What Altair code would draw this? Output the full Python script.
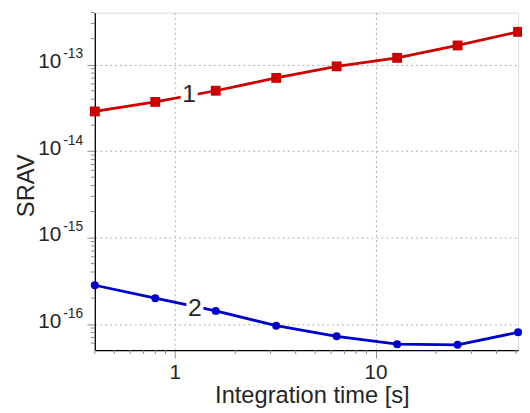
import altair as alt
import pandas as pd

# ---- data ----
time_s = [0.4, 0.8, 1.6, 3.2, 6.4, 12.8, 25.6, 51.2]
srav_1 = [2.88e-14, 3.71e-14, 5.0e-14, 7.03e-14, 9.57e-14, 1.20e-13, 1.67e-13, 2.40e-13]
srav_2 = [2.81e-16, 1.99e-16, 1.42e-16, 9.57e-17, 7.22e-17, 5.85e-17, 5.75e-17, 8.02e-17]
series_names = ["1", "2"]
label_x = [1.18, 1.26]
label_y = [4.62e-14, 1.53e-16]

x_major = [1, 10]
x_minor = [0.4, 0.5, 0.6, 0.7, 0.8, 0.9, 2, 3, 4, 5, 6, 7, 8, 9, 20, 30, 40, 50]
y_major = [1e-16, 1e-15, 1e-14, 1e-13]
y_exp = ["-16", "-15", "-14", "-13"]
y_minor = [6e-17, 7e-17, 8e-17, 9e-17,
           2e-16, 3e-16, 4e-16, 5e-16, 6e-16, 7e-16, 8e-16, 9e-16,
           2e-15, 3e-15, 4e-15, 5e-15, 6e-15, 7e-15, 8e-15, 9e-15,
           2e-14, 3e-14, 4e-14, 5e-14, 6e-14, 7e-14, 8e-14, 9e-14,
           2e-13, 3e-13, 4e-13]

W, H = 429, 342
FONT = "Liberation Sans"
TXT = "#262626"

df = pd.DataFrame({
    "x": time_s * 2,
    "y": srav_1 + srav_2,
    "s": [series_names[0]] * len(time_s) + [series_names[1]] * len(time_s),
})
lab = pd.DataFrame({"x": label_x, "y": label_y, "s": series_names})
xmin_df = pd.DataFrame({"x": x_minor})
ymin_df = pd.DataFrame({"y": y_minor})
ymaj_df = pd.DataFrame({"y": y_major, "base": ["10"] * len(y_major), "exp": y_exp})

xscale = alt.Scale(type="log", domain=[0.4, 51.2], nice=False)
yscale = alt.Scale(type="log", domain=[5e-17, 4e-13], nice=False)
cscale = alt.Scale(domain=series_names, range=["#cc0000", "#0000cc"])
sscale = alt.Scale(domain=series_names, range=["square", "circle"])

xaxis = alt.Axis(values=x_major, format="~g", title="Integration time [s]",
                 grid=True, gridColor="#b0b0b0", gridDash=[2, 3], gridWidth=1,
                 domainColor="black", domainWidth=1.3, tickColor="#888", tickSize=8,
                 labelFont=FONT, labelFontSize=21, labelColor=TXT, labelPadding=4,
                 titleFont=FONT, titleFontSize=24, titleFontWeight="normal", titleColor=TXT,
                 titleX=220, titleY=53, titleBaseline="alphabetic", titleAlign="center")
yaxis = alt.Axis(values=y_major, labels=False, title="SRAV",
                 grid=True, gridColor="#b0b0b0", gridDash=[2, 3], gridWidth=1,
                 domainColor="black", domainWidth=1.3, tickColor="#888", tickSize=8,
                 titleFont=FONT, titleFontSize=24, titleFontWeight="normal", titleColor=TXT,
                 titleAngle=270, titleX=-62, titleY=175, titleBaseline="alphabetic",
                 titleAlign="center")

X = alt.X("x:Q", scale=xscale, axis=xaxis)
Y = alt.Y("y:Q", scale=yscale, axis=yaxis)

lines = alt.Chart(df).mark_line(strokeWidth=2.8).encode(
    x=X, y=Y,
    color=alt.Color("s:N", scale=cscale, legend=None),
    detail="s:N",
)
points = alt.Chart(df).mark_point(filled=True, opacity=1).encode(
    x=X, y=Y,
    color=alt.Color("s:N", scale=cscale, legend=None),
    shape=alt.Shape("s:N", scale=sscale, legend=None),
    size=alt.Size("s:N", scale=alt.Scale(domain=series_names, range=[100, 65]), legend=None),
)
label_bg = alt.Chart(lab).mark_square(color="white", opacity=1, size=300).encode(
    x=X, y=Y,
)
label_txt = alt.Chart(lab).mark_text(font=FONT, fontSize=25, color=TXT,
                                     baseline="middle", align="center").encode(
    x=X, y=Y,
    text="s:N",
)
xminor = alt.Chart(xmin_df).mark_rule(color="#888", strokeWidth=1).encode(
    x=X,
    y=alt.value(H), y2=alt.value(H + 4),
)
yminor = alt.Chart(ymin_df).mark_rule(color="#888", strokeWidth=1).encode(
    y=Y,
    x=alt.value(0), x2=alt.value(-4),
)
ybase = alt.Chart(ymaj_df).mark_text(font=FONT, fontSize=21, color=TXT,
                                     align="right", baseline="alphabetic", dy=3.5).encode(
    y=Y,
    x=alt.value(-34),
    text="base:N",
)
yexp = alt.Chart(ymaj_df).mark_text(font=FONT, fontSize=14, color=TXT,
                                    align="left", baseline="alphabetic", dy=-6.6).encode(
    y=Y,
    x=alt.value(-32),
    text="exp:N",
)

chart = alt.layer(lines, xminor, yminor, label_bg, points, label_txt, ybase, yexp).properties(
    width=W, height=H,
    autosize=alt.AutoSizeParams(type="none"),
    padding={"left": 88, "top": 2, "right": 4, "bottom": 57},
).configure_view(stroke=None).configure(background="white")

chart.save("out.html", embed_options={"renderer": "svg", "actions": False})
